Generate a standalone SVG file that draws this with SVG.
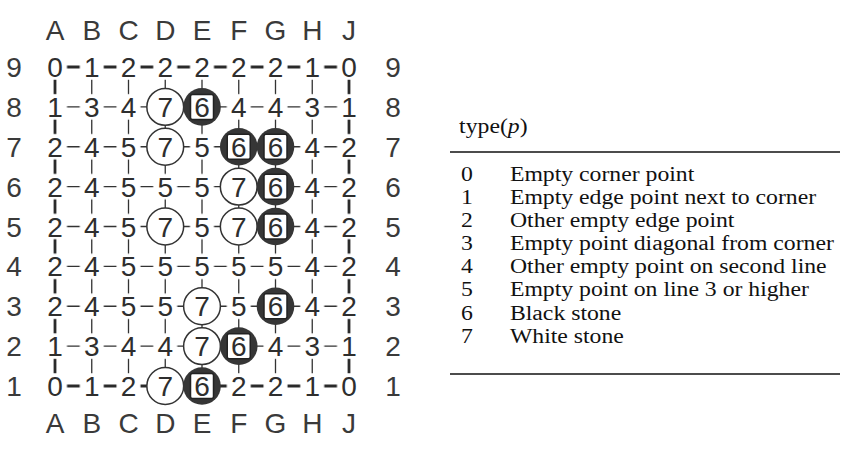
<svg xmlns="http://www.w3.org/2000/svg" xmlns:xlink="http://www.w3.org/1999/xlink" width="848" height="449" viewBox="0 0 848 449">
  <style>
    .num { font-family: "Liberation Sans", Arial, sans-serif; font-size: 28px; fill: #2e2e2e; text-anchor: middle; }
    .lbl { font-family: "Liberation Sans", Arial, sans-serif; font-size: 28px; fill: #3a3a3a; text-anchor: middle; }
    .grid { stroke: #333; stroke-width: 1.3; fill: none; }
    .edge { stroke: #2a2a2a; stroke-width: 2.8; fill: none; }
    .tbl { font-family: "Liberation Serif", "Times New Roman", serif; font-size: 20.8px; fill: #111; }
    .rule { stroke: #111; stroke-width: 1.5; }
  </style>
  <defs>
    <!-- knock-out tile: leaves a gap in the board lines around every point -->
    <pattern id="holes" patternUnits="userSpaceOnUse" x="36.625" y="47.0625" width="36.75" height="39.875">
      <rect x="6.375" y="7.1875" width="24" height="25.5" fill="#000"/>
    </pattern>
    <mask id="gaps" maskUnits="userSpaceOnUse" x="0" y="0" width="848" height="449">
      <rect x="0" y="0" width="848" height="449" fill="#fff"/>
      <rect x="36.625" y="47.0625" width="330.75" height="358.875" fill="url(#holes)"/>
    </mask>
    <circle id="white" r="18.4" fill="#fff" stroke="#333" stroke-width="1.5"/>
    <g id="black">
      <circle r="18.8" fill="#363636"/>
      <rect x="-11.5" y="-12.5" width="23" height="25" rx="2" fill="#fff" stroke="#222" stroke-width="1.5"/>
    </g>
  </defs>

  <rect width="848" height="449" fill="#fff"/>

  <!-- column and row labels -->
  <g id="labels">
    <text class="lbl" x="55" y="40">A</text><text class="lbl" x="91.75" y="40">B</text><text class="lbl" x="128.5" y="40">C</text>
    <text class="lbl" x="165.25" y="40">D</text><text class="lbl" x="202" y="40">E</text><text class="lbl" x="238.75" y="40">F</text>
    <text class="lbl" x="275.5" y="40">G</text><text class="lbl" x="312.25" y="40">H</text><text class="lbl" x="349" y="40">J</text>
    <text class="lbl" x="55" y="433">A</text><text class="lbl" x="91.75" y="433">B</text><text class="lbl" x="128.5" y="433">C</text>
    <text class="lbl" x="165.25" y="433">D</text><text class="lbl" x="202" y="433">E</text><text class="lbl" x="238.75" y="433">F</text>
    <text class="lbl" x="275.5" y="433">G</text><text class="lbl" x="312.25" y="433">H</text><text class="lbl" x="349" y="433">J</text>
    <text class="lbl" x="14" y="77">9</text><text class="lbl" x="14" y="116.9">8</text><text class="lbl" x="14" y="156.8">7</text>
    <text class="lbl" x="14" y="196.6">6</text><text class="lbl" x="14" y="236.5">5</text><text class="lbl" x="14" y="276.4">4</text>
    <text class="lbl" x="14" y="316.3">3</text><text class="lbl" x="14" y="356.1">2</text><text class="lbl" x="14" y="396">1</text>
    <text class="lbl" x="393" y="77">9</text><text class="lbl" x="393" y="116.9">8</text><text class="lbl" x="393" y="156.8">7</text>
    <text class="lbl" x="393" y="196.6">6</text><text class="lbl" x="393" y="236.5">5</text><text class="lbl" x="393" y="276.4">4</text>
    <text class="lbl" x="393" y="316.3">3</text><text class="lbl" x="393" y="356.1">2</text><text class="lbl" x="393" y="396">1</text>
  </g>

  <!-- board lines, broken around each point -->
  <g id="connectors" mask="url(#gaps)">
    <path class="grid" d="M55 106.875H349M55 146.75H349M55 186.625H349M55 226.5H349M55 266.375H349M55 306.25H349M55 346.125H349"/>
    <path class="grid" d="M91.75 67V386M128.5 67V386M165.25 67V386M202 67V386M238.75 67V386M275.5 67V386M312.25 67V386"/>
    <path class="edge" d="M55 67H349M55 386H349M55 67V386M349 67V386"/>
  </g>

  <!-- row 9 -->
  <g id="A9" transform="translate(55 67)"><text class="num" y="10">0</text></g>
  <g id="B9" transform="translate(91.75 67)"><text class="num" y="10">1</text></g>
  <g id="C9" transform="translate(128.5 67)"><text class="num" y="10">2</text></g>
  <g id="D9" transform="translate(165.25 67)"><text class="num" y="10">2</text></g>
  <g id="E9" transform="translate(202 67)"><text class="num" y="10">2</text></g>
  <g id="F9" transform="translate(238.75 67)"><text class="num" y="10">2</text></g>
  <g id="G9" transform="translate(275.5 67)"><text class="num" y="10">2</text></g>
  <g id="H9" transform="translate(312.25 67)"><text class="num" y="10">1</text></g>
  <g id="J9" transform="translate(349 67)"><text class="num" y="10">0</text></g>

  <!-- row 8 -->
  <g id="A8" transform="translate(55 106.875)"><text class="num" y="10">1</text></g>
  <g id="B8" transform="translate(91.75 106.875)"><text class="num" y="10">3</text></g>
  <g id="C8" transform="translate(128.5 106.875)"><text class="num" y="10">4</text></g>
  <g id="D8" transform="translate(165.25 106.875)"><use xlink:href="#white"/><text class="num" y="10">7</text></g>
  <g id="E8" transform="translate(202 106.875)"><use xlink:href="#black"/><text class="num" y="10">6</text></g>
  <g id="F8" transform="translate(238.75 106.875)"><text class="num" y="10">4</text></g>
  <g id="G8" transform="translate(275.5 106.875)"><text class="num" y="10">4</text></g>
  <g id="H8" transform="translate(312.25 106.875)"><text class="num" y="10">3</text></g>
  <g id="J8" transform="translate(349 106.875)"><text class="num" y="10">1</text></g>

  <!-- row 7 -->
  <g id="A7" transform="translate(55 146.75)"><text class="num" y="10">2</text></g>
  <g id="B7" transform="translate(91.75 146.75)"><text class="num" y="10">4</text></g>
  <g id="C7" transform="translate(128.5 146.75)"><text class="num" y="10">5</text></g>
  <g id="D7" transform="translate(165.25 146.75)"><use xlink:href="#white"/><text class="num" y="10">7</text></g>
  <g id="E7" transform="translate(202 146.75)"><text class="num" y="10">5</text></g>
  <g id="F7" transform="translate(238.75 146.75)"><use xlink:href="#black"/><text class="num" y="10">6</text></g>
  <g id="G7" transform="translate(275.5 146.75)"><use xlink:href="#black"/><text class="num" y="10">6</text></g>
  <g id="H7" transform="translate(312.25 146.75)"><text class="num" y="10">4</text></g>
  <g id="J7" transform="translate(349 146.75)"><text class="num" y="10">2</text></g>

  <!-- row 6 -->
  <g id="A6" transform="translate(55 186.625)"><text class="num" y="10">2</text></g>
  <g id="B6" transform="translate(91.75 186.625)"><text class="num" y="10">4</text></g>
  <g id="C6" transform="translate(128.5 186.625)"><text class="num" y="10">5</text></g>
  <g id="D6" transform="translate(165.25 186.625)"><text class="num" y="10">5</text></g>
  <g id="E6" transform="translate(202 186.625)"><text class="num" y="10">5</text></g>
  <g id="F6" transform="translate(238.75 186.625)"><use xlink:href="#white"/><text class="num" y="10">7</text></g>
  <g id="G6" transform="translate(275.5 186.625)"><use xlink:href="#black"/><text class="num" y="10">6</text></g>
  <g id="H6" transform="translate(312.25 186.625)"><text class="num" y="10">4</text></g>
  <g id="J6" transform="translate(349 186.625)"><text class="num" y="10">2</text></g>

  <!-- row 5 -->
  <g id="A5" transform="translate(55 226.5)"><text class="num" y="10">2</text></g>
  <g id="B5" transform="translate(91.75 226.5)"><text class="num" y="10">4</text></g>
  <g id="C5" transform="translate(128.5 226.5)"><text class="num" y="10">5</text></g>
  <g id="D5" transform="translate(165.25 226.5)"><use xlink:href="#white"/><text class="num" y="10">7</text></g>
  <g id="E5" transform="translate(202 226.5)"><text class="num" y="10">5</text></g>
  <g id="F5" transform="translate(238.75 226.5)"><use xlink:href="#white"/><text class="num" y="10">7</text></g>
  <g id="G5" transform="translate(275.5 226.5)"><use xlink:href="#black"/><text class="num" y="10">6</text></g>
  <g id="H5" transform="translate(312.25 226.5)"><text class="num" y="10">4</text></g>
  <g id="J5" transform="translate(349 226.5)"><text class="num" y="10">2</text></g>

  <!-- row 4 -->
  <g id="A4" transform="translate(55 266.375)"><text class="num" y="10">2</text></g>
  <g id="B4" transform="translate(91.75 266.375)"><text class="num" y="10">4</text></g>
  <g id="C4" transform="translate(128.5 266.375)"><text class="num" y="10">5</text></g>
  <g id="D4" transform="translate(165.25 266.375)"><text class="num" y="10">5</text></g>
  <g id="E4" transform="translate(202 266.375)"><text class="num" y="10">5</text></g>
  <g id="F4" transform="translate(238.75 266.375)"><text class="num" y="10">5</text></g>
  <g id="G4" transform="translate(275.5 266.375)"><text class="num" y="10">5</text></g>
  <g id="H4" transform="translate(312.25 266.375)"><text class="num" y="10">4</text></g>
  <g id="J4" transform="translate(349 266.375)"><text class="num" y="10">2</text></g>

  <!-- row 3 -->
  <g id="A3" transform="translate(55 306.25)"><text class="num" y="10">2</text></g>
  <g id="B3" transform="translate(91.75 306.25)"><text class="num" y="10">4</text></g>
  <g id="C3" transform="translate(128.5 306.25)"><text class="num" y="10">5</text></g>
  <g id="D3" transform="translate(165.25 306.25)"><text class="num" y="10">5</text></g>
  <g id="E3" transform="translate(202 306.25)"><use xlink:href="#white"/><text class="num" y="10">7</text></g>
  <g id="F3" transform="translate(238.75 306.25)"><text class="num" y="10">5</text></g>
  <g id="G3" transform="translate(275.5 306.25)"><use xlink:href="#black"/><text class="num" y="10">6</text></g>
  <g id="H3" transform="translate(312.25 306.25)"><text class="num" y="10">4</text></g>
  <g id="J3" transform="translate(349 306.25)"><text class="num" y="10">2</text></g>

  <!-- row 2 -->
  <g id="A2" transform="translate(55 346.125)"><text class="num" y="10">1</text></g>
  <g id="B2" transform="translate(91.75 346.125)"><text class="num" y="10">3</text></g>
  <g id="C2" transform="translate(128.5 346.125)"><text class="num" y="10">4</text></g>
  <g id="D2" transform="translate(165.25 346.125)"><text class="num" y="10">4</text></g>
  <g id="E2" transform="translate(202 346.125)"><use xlink:href="#white"/><text class="num" y="10">7</text></g>
  <g id="F2" transform="translate(238.75 346.125)"><use xlink:href="#black"/><text class="num" y="10">6</text></g>
  <g id="G2" transform="translate(275.5 346.125)"><text class="num" y="10">4</text></g>
  <g id="H2" transform="translate(312.25 346.125)"><text class="num" y="10">3</text></g>
  <g id="J2" transform="translate(349 346.125)"><text class="num" y="10">1</text></g>

  <!-- row 1 -->
  <g id="A1" transform="translate(55 386)"><text class="num" y="10">0</text></g>
  <g id="B1" transform="translate(91.75 386)"><text class="num" y="10">1</text></g>
  <g id="C1" transform="translate(128.5 386)"><text class="num" y="10">2</text></g>
  <g id="D1" transform="translate(165.25 386)"><use xlink:href="#white"/><text class="num" y="10">7</text></g>
  <g id="E1" transform="translate(202 386)"><use xlink:href="#black"/><text class="num" y="10">6</text></g>
  <g id="F1" transform="translate(238.75 386)"><text class="num" y="10">2</text></g>
  <g id="G1" transform="translate(275.5 386)"><text class="num" y="10">2</text></g>
  <g id="H1" transform="translate(312.25 386)"><text class="num" y="10">1</text></g>
  <g id="J1" transform="translate(349 386)"><text class="num" y="10">0</text></g>

  <!-- legend table (text widened a little to fit the column) -->
  <g id="legend">
    <line class="rule" x1="450" y1="152" x2="840" y2="152"/>
    <line class="rule" x1="450" y1="374" x2="840" y2="374"/>
    <g class="tbl" transform="translate(450 0) scale(1.14 1) translate(-450 0)">
      <text x="458" y="133.5">type(<tspan font-style="italic">p</tspan>)</text>
      <text x="459.6" y="181">0</text><text x="502.6" y="181">Empty corner point</text>
      <text x="459.6" y="204.1">1</text><text x="502.6" y="204.1">Empty edge point next to corner</text>
      <text x="459.6" y="227.2">2</text><text x="502.6" y="227.2">Other empty edge point</text>
      <text x="459.6" y="250.3">3</text><text x="502.6" y="250.3">Empty point diagonal from corner</text>
      <text x="459.6" y="273.4">4</text><text x="502.6" y="273.4">Other empty point on second line</text>
      <text x="459.6" y="296.5">5</text><text x="502.6" y="296.5">Empty point on line 3 or higher</text>
      <text x="459.6" y="319.6">6</text><text x="502.6" y="319.6">Black stone</text>
      <text x="459.6" y="342.7">7</text><text x="502.6" y="342.7">White stone</text>
    </g>
  </g>
</svg>
